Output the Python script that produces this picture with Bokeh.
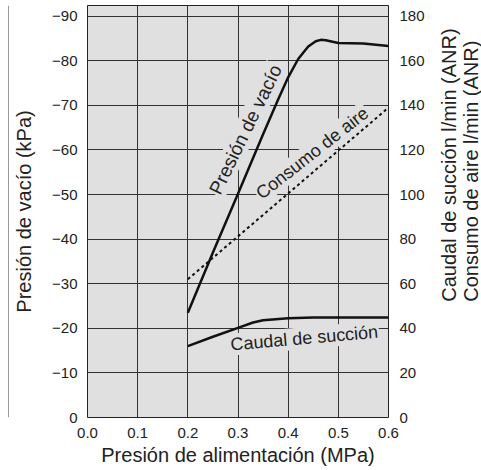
import math
from bokeh.plotting import figure
from bokeh.models import Range1d, LinearAxis, FixedTicker, Label
from bokeh.core.properties import value
from bokeh.layouts import row
from bokeh.embed import file_html
from bokeh.resources import INLINE

# Data (x: supply pressure MPa)
vac_x = [0.2, 0.25, 0.3, 0.35, 0.38, 0.4, 0.42, 0.44, 0.455, 0.465, 0.475, 0.5, 0.55, 0.6]
vac_y = [-23.5, -37.0, -50.2, -63.5, -71.3, -76.3, -80.4, -83.2, -84.4, -84.7, -84.6, -84.0, -83.9, -83.3]

air_x = [0.2, 0.6]
air_y = [62.0, 139.0]          # l/min (ANR), right axis

suc_x = [0.2, 0.25, 0.3, 0.33, 0.35, 0.4, 0.45, 0.5, 0.55, 0.6]
suc_y = [32.0, 36.2, 40.2, 42.6, 43.6, 44.5, 44.8, 44.9, 44.9, 44.9]

x_ticks = [0.0, 0.1, 0.2, 0.3, 0.4, 0.5, 0.6]
left_ticks = [0, -10, -20, -30, -40, -50, -60, -70, -80, -90]
right_ticks = [0, 20, 40, 60, 80, 100, 120, 140, 160, 180]
right_titles = ["Caudal de succión l/min (ANR)", "Consumo de aire l/min (ANR)"]

FONT = "Liberation Sans"
GRAY = "#e0e0e0"
INK = "#222222"
EDGE = "#555555"

# page geometry (pixels)
W, H = 481, 470
LEFT = 9           # width of the left strip carrying the frame line
FL, FR, FT, FB = 87, 388, 5, 417
SPLIT = 432        # x where the right title strip begins


def blank(w, h, xr, yr):
    f = figure(width=w, height=h, output_backend="svg", toolbar_location=None,
               x_range=xr, y_range=yr,
               min_border_left=0, min_border_right=0, min_border_top=0, min_border_bottom=0)
    f.axis.visible = False
    f.grid.visible = False
    f.outline_line_color = None
    f.background_fill_color = "white"
    f.border_fill_color = "white"
    return f


# left strip: vertical frame line
left = blank(LEFT, H, Range1d(0, LEFT), Range1d(H, 0))
left.segment(x0=[8.5], y0=[0], x1=[8.5], y1=[H], line_color=EDGE, line_width=1.2)

# main chart
p = figure(width=SPLIT - LEFT, height=H, output_backend="svg", toolbar_location=None,
           x_range=Range1d(0, 0.6), y_range=Range1d(0, -92.4),
           min_border_left=FL - LEFT, min_border_right=SPLIT - FR, min_border_top=FT,
           min_border_bottom=H - FB)
p.background_fill_color = GRAY
p.border_fill_color = "white"
p.outline_line_color = INK
p.outline_line_width = 1

p.extra_y_ranges = {"r": Range1d(0, 184.8)}

p.xaxis.ticker = FixedTicker(ticks=x_ticks)
p.xaxis.major_label_overrides = {t: f"{t:.1f}" for t in x_ticks}
p.xaxis.axis_label = "Presión de alimentación (MPa)"

p.yaxis.ticker = FixedTicker(ticks=left_ticks)
p.yaxis.major_label_overrides = {t: ("0" if t == 0 else "\u2212" + str(-t)) for t in left_ticks}
p.yaxis.axis_label = "Presión de vacío (kPa)"

raxis = LinearAxis(y_range_name="r", ticker=FixedTicker(ticks=right_ticks))
p.add_layout(raxis, "right")

for ax in [p.xaxis[0], p.yaxis[0], raxis]:
    ax.axis_line_color = None
    ax.major_tick_line_color = None
    ax.minor_tick_line_color = None
    ax.major_label_text_font = FONT
    ax.major_label_text_font_size = "15px"
    ax.major_label_text_color = INK
    ax.axis_label_text_font = FONT
    ax.axis_label_text_font_size = "20px"
    ax.axis_label_text_font_style = "normal"
    ax.axis_label_text_color = INK
p.xaxis.major_label_standoff = 4
p.yaxis.major_label_standoff = 4
raxis.major_label_standoff = 5
p.xaxis.axis_label_standoff = 3
p.yaxis.axis_label_standoff = 14

p.xgrid.ticker = FixedTicker(ticks=x_ticks)
p.ygrid.ticker = FixedTicker(ticks=left_ticks)
for g in [p.xgrid[0], p.ygrid[0]]:
    g.grid_line_color = "#333333"
    g.grid_line_width = 1
    g.grid_line_alpha = 1

p.line(vac_x, vac_y, line_color="#111111", line_width=2.5)
p.line(air_x, air_y, y_range_name="r", line_color="#111111", line_width=2, line_dash="3 3")
p.line(suc_x, suc_y, y_range_name="r", line_color="#111111", line_width=2.5)


def lab(text, x, y, ang, size, yr="default"):
    p.add_layout(Label(x=x, y=y, text=text, angle=math.radians(ang), y_range_name=yr,
                       text_align="center", text_baseline="middle",
                       text_font=FONT, text_font_size=size, text_color=INK,
                       background_fill_color=GRAY, background_fill_alpha=1.0,
                       padding=1))


lab("Presión de vacío", 0.315, -64.6, 64, "19px")
lab("Consumo de aire", 0.448, 118.6, 38, "18px", "r")
lab("Caudal de succión", 0.432, 35.6, 5, "18px", "r")

# right strip carrying the two-line right-axis title (reads bottom to top)
p2 = blank(W - SPLIT, H, Range1d(0, W - SPLIT), Range1d(H, 0))
p2.text(x=[448 - SPLIT, 470 - SPLIT], y=[338, 338], text=right_titles,
        angle=math.pi / 2, text_align="left", text_baseline="middle",
        text_font=value(FONT), text_font_size="20px", text_color=INK)

layout = row(left, p, p2, spacing=0)

open("out.html", "w").write(file_html(layout, INLINE))
